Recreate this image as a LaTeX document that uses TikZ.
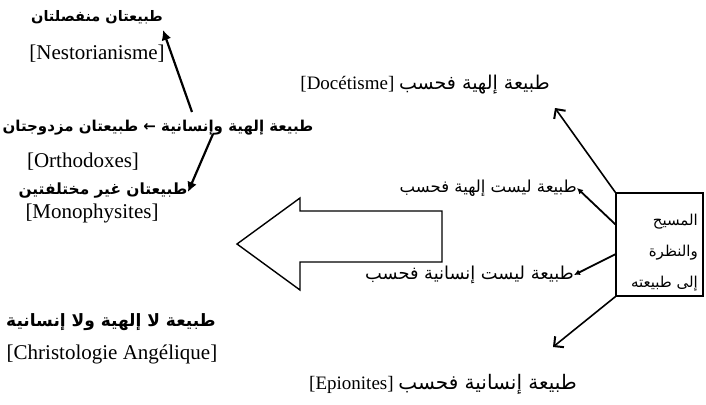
\documentclass[tikz,border=0pt]{standalone}
\usepackage{fontspec}
\setmainfont{Liberation Serif}
\newfontfamily\arabicfont[Script=Arabic]{DejaVu Sans}
\TeXXeTstate=1
\usetikzlibrary{arrows.meta}
\newcommand\arsz[1]{\arabicfont\fontsize{#1}{#1}\selectfont}
\tikzset{
  arlbl/.style={inner sep=0pt, font=\arabicfont\bfseries\fontsize{15}{18}\selectfont},
  arrlbl/.style={inner sep=0pt, font=\arabicfont\fontsize{16}{18}\selectfont},
  latlbl/.style={inner sep=0pt, font=\fontsize{21}{24}\selectfont},
  mixlbl/.style={inner sep=0pt, font=\fontsize{19}{24}\selectfont},
  thick arrow/.style={line width=2.2pt, -{Latex[length=10pt,width=10pt]}},
  barb arrow/.style={line width=1.6pt, -{Straight Barb[length=7pt,width=14pt,line width=2pt]}},
  small arrow/.style={line width=1.8pt, -{Latex[length=6pt,width=6pt]}},
  boxstyle/.style={draw, line width=1.4pt, minimum width=87pt, minimum height=103pt, inner sep=0pt},
  hollow/.style={draw, line width=1.4pt, line join=miter, fill=white}
}
\begin{document}
\begin{tikzpicture}[x=1pt,y=-1pt]
\useasboundingbox (0,0) rectangle (706,404);
% left column
\node[arlbl, font=\arabicfont\bfseries\fontsize{14.5}{18}\selectfont] (sep) at (97,17) {\beginR طبيعتان منفصلتان\endR};
\node[latlbl] (nest) at (97,54) {[Nestorianisme]};
\node[arlbl] (dual) at (158,128) {\beginR طبيعة إلهية وإنسانية ← طبيعتان مزدوجتان\endR};
\node[latlbl] (orth) at (83,162) {[Orthodoxes]};
\node[arlbl, font=\arabicfont\bfseries\fontsize{15.4}{18}\selectfont] (nodiff) at (103,191) {\beginR طبيعتان غير مختلفتين\endR};
\node[latlbl] (mono) at (92,213) {[Monophysites]};
\node[arlbl, font=\arabicfont\bfseries\fontsize{17}{18}\selectfont] (neither) at (111,322) {\beginR طبيعة لا إلهية ولا إنسانية\endR};
\node[latlbl] (angel) at (112,354) {[Christologie Angélique]};
% right column
\node[mixlbl, anchor=east] (doce) at (550,85) {[Docétisme] {\arsz{19}\beginR طبيعة إلهية فحسب\endR}};
\node[arrlbl, anchor=east, font=\arsz{16.5}] (notdiv) at (577,188) {\beginR طبيعة ليست إلهية فحسب\endR};
\node[arrlbl, anchor=east, font=\arsz{17.8}] (nothum) at (574,275) {\beginR طبيعة ليست إنسانية فحسب\endR};
\node[mixlbl, anchor=east] (epio) at (577,384) {[Epionites] {\arsz{20}\beginR طبيعة إنسانية فحسب\endR}};
% box
\node[boxstyle] (box) at (659.5,244.5) {};
\node[inner sep=0pt, anchor=east, align=right, font=\arabicfont\fontsize{15}{31}\selectfont] (boxtxt) at (698,253)
  {\beginR المسيح\endR\\ \beginR والنظرة\endR\\ \beginR إلى طبيعته\endR};
% hollow arrow
\draw[hollow] (237,244) -- (300,198) -- (300,211) -- (442,211) -- (442,262) -- (300,262) -- (300,290) -- cycle;
% connectors
\coordinate (a1s) at (192,112);
\coordinate (a1e) at (163,30);
\coordinate (a2s) at (213,134);
\coordinate (a2e) at (188,192);
\draw[thick arrow] (a1s) -- (a1e);
\draw[thick arrow] (a2s) -- (a2e);
\draw[barb arrow] (box.north west) -- (555,108);
\draw[small arrow] ([yshift=-32pt]box.north west) -- (notdiv.east);
\draw[small arrow] ([yshift=-62pt]box.north west) -- (nothum.east);
\draw[barb arrow] (box.south west) -- (553,347);
\end{tikzpicture}
\end{document}
